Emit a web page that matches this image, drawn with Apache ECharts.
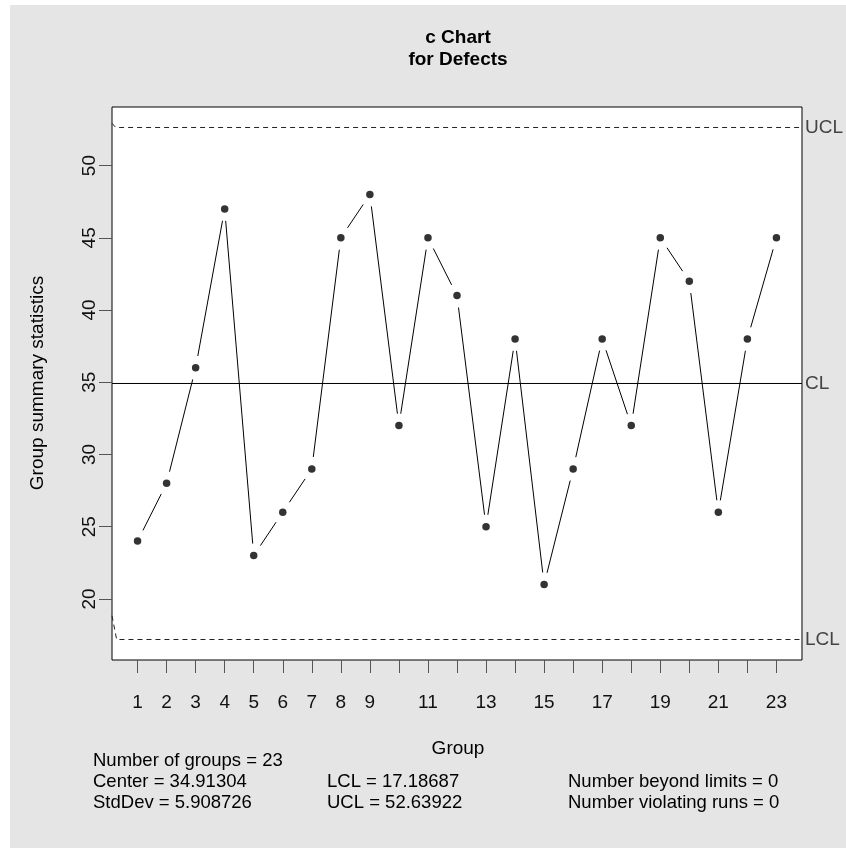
<!DOCTYPE html>
<html><head><meta charset="utf-8">
<script src="https://cdn.jsdelivr.net/npm/echarts@6/dist/echarts.min.js"></script>
<style>html,body{margin:0;padding:0;background:#fff}#c{width:846px;height:848px}</style>
</head><body><div id="c"></div>
<script>
// ---- data ----
const groups = [1,2,3,4,5,6,7,8,9,10,11,12,13,14,15,16,17,18,19,20,21,22,23];
const defects = [24,28,36,47,23,26,29,45,48,32,45,41,25,38,21,29,38,32,45,42,26,38,45];
const centerValue = 34.91304;
const lclValue = 17.18687;
const uclValue = 52.63922;
const xTicks = [1,2,3,4,5,6,7,8,9,10,11,12,13,14,15,16,17,18,19,20,21,22,23];
const xTickLabels = [1,2,3,4,5,6,7,8,9,11,13,15,17,19,21,23];
const yTicks = [20,25,30,35,40,45,50];
const limitNames = ['LCL','CL','UCL'];
const xRange = [0.12, 23.88];
const yRange = [15.768, 54.057];
// limit lines (incl. the small lead-in stroke at the left edge)
const uclLine = [[0.12, 52.93], [0.246, uclValue], [23.88, uclValue]];
const lclLine = [[0.12, 18.83], [0.28, lclValue], [23.88, lclValue]];
const clLine = [[0.12, centerValue], [23.88, centerValue]];
const titleLines = ['c Chart', 'for Defects'];
const statCol1 = ['Number of groups = 23', 'Center = 34.91304', 'StdDev = 5.908726'];
const statCol2 = ['LCL = 17.18687', 'UCL = 52.63922'];
const statCol3 = ['Number beyond limits = 0', 'Number violating runs = 0'];

const FONT = "'Liberation Sans', Arial, Helvetica, sans-serif";
const FS = 19;
const FS_STAT = 18.5;
const chart = echarts.init(document.getElementById('c'), null, {renderer: 'canvas'});

const GAP = 12;
const graphics = [
  {type:'rect', left:0, top:0, shape:{width:846, height:5}, style:{fill:'#fff'}, silent:true},
  {type:'rect', left:0, top:0, shape:{width:10, height:848}, style:{fill:'#fff'}, silent:true},
  {type:'text', x:458, y:38, style:{text:titleLines[0], font:"bold 19px " + FONT, fill:'#000', align:'center', verticalAlign:'middle'}},
  {type:'text', x:458, y:60, style:{text:titleLines[1], font:"bold 19px " + FONT, fill:'#000', align:'center', verticalAlign:'middle'}},
  {type:'text', x:458, y:749, style:{text:'Group', font:FS+"px " + FONT, fill:'#000', align:'center', verticalAlign:'middle'}},
  {type:'text', x:38, y:383, rotation:Math.PI/2, style:{text:'Group summary statistics', font:FS+"px " + FONT, fill:'#000', align:'center', verticalAlign:'middle'}}
];
const rowsY = [761, 782, 803];
statCol1.forEach((t,i)=>graphics.push({type:'text', x:93, y:rowsY[i], style:{text:t, font:FS_STAT+"px " + FONT, fill:'#000', align:'left', verticalAlign:'middle'}}));
statCol2.forEach((t,i)=>graphics.push({type:'text', x:327, y:rowsY[i+1], style:{text:t, font:FS_STAT+"px " + FONT, fill:'#000', align:'left', verticalAlign:'middle'}}));
statCol3.forEach((t,i)=>graphics.push({type:'text', x:568, y:rowsY[i+1], style:{text:t, font:FS_STAT+"px " + FONT, fill:'#000', align:'left', verticalAlign:'middle'}}));

const option = {
  backgroundColor: '#e5e5e5',
  animation: false,
  grid: {left:112, top:107, right:41, bottom:188, show:true, backgroundColor:'#fff', borderColor:'#000', borderWidth:1},
  xAxis: {
    type:'value', min:xRange[0], max:xRange[1],
    axisLine:{show:false}, splitLine:{show:false},
    axisTick:{show:true, customValues:xTicks, length:13, lineStyle:{color:'#555', width:1}},
    axisLabel:{customValues:xTickLabels, margin:33, fontSize:FS, color:'#111', fontFamily:FONT}
  },
  yAxis: [{
    type:'value', min:yRange[0], max:yRange[1],
    axisLine:{show:false}, splitLine:{show:false},
    axisTick:{show:true, customValues:yTicks, length:13, lineStyle:{color:'#555', width:1}},
    axisLabel:{customValues:yTicks, rotate:90, margin:13, fontSize:FS, color:'#111', fontFamily:FONT}
  },{
    type:'value', min:yRange[0], max:yRange[1], position:'right',
    axisLine:{show:false}, splitLine:{show:false}, axisTick:{show:false},
    axisLabel:{customValues:[lclValue, centerValue, uclValue], margin:3, fontSize:FS, color:'#444', fontFamily:FONT,
      formatter:function(v){ const vals=[lclValue, centerValue, uclValue]; let k=0, best=1e9; vals.forEach((x,j)=>{ if(Math.abs(x-v)<best){best=Math.abs(x-v);k=j;} }); return limitNames[k]; }}
  }],
  graphic: graphics,
  series: [
    {type:'line', data:uclLine, symbol:'none', lineStyle:{color:'#222', width:1, type:[5,4]}, silent:true},
    {type:'line', data:lclLine, symbol:'none', lineStyle:{color:'#222', width:1, type:[5,4]}, silent:true},
    {type:'line', data:clLine, symbol:'none', lineStyle:{color:'#000', width:1}, silent:true},
    {type:'custom', data:groups.map((g,i)=>[g, defects[i]]), encode:{x:0, y:1}, silent:true,
      renderItem:function(params, api){
        const i = params.dataIndex;
        if (i >= defects.length-1) return null;
        const p1 = api.coord([groups[i], defects[i]]);
        const p2 = api.coord([groups[i+1], defects[i+1]]);
        const dx=p2[0]-p1[0], dy=p2[1]-p1[1], L=Math.hypot(dx,dy);
        if (L <= 2*GAP) return null;
        const ux=dx/L, uy=dy/L;
        return {type:'line', shape:{x1:p1[0]+ux*GAP, y1:p1[1]+uy*GAP, x2:p2[0]-ux*GAP, y2:p2[1]-uy*GAP}, style:{stroke:'#000', lineWidth:1}};
      }},
    {type:'scatter', data:groups.map((g,i)=>[g, defects[i]]), symbol:'circle', symbolSize:7.5, itemStyle:{color:'#000'}, silent:true}
  ]
};
chart.setOption(option);
</script></body></html>
